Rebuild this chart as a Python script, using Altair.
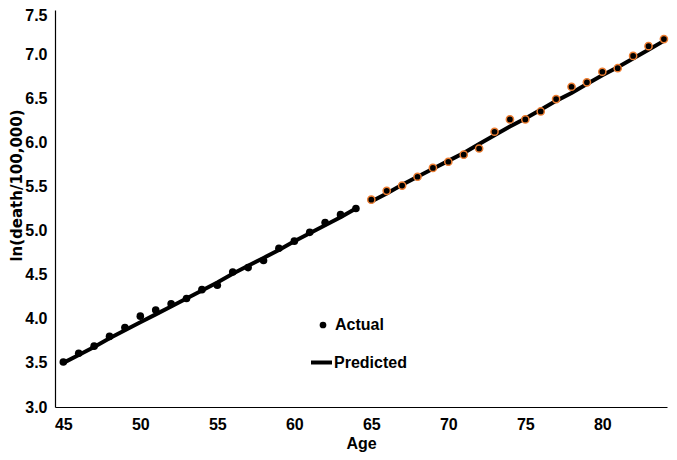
import altair as alt
import pandas as pd

ages = list(range(45, 85))
actual = [3.51, 3.61, 3.69, 3.80, 3.90, 4.03, 4.10, 4.17, 4.23, 4.33,
          4.38, 4.53, 4.58, 4.66, 4.80, 4.88, 4.98, 5.09, 5.18, 5.25,
          5.35, 5.45, 5.51, 5.61, 5.71, 5.78, 5.86, 5.93, 6.12, 6.26,
          6.26, 6.35, 6.49, 6.63, 6.68, 6.80, 6.84, 6.98, 7.09, 7.17]
predicted = [3.50, 3.59, 3.68, 3.78, 3.87, 3.96, 4.05, 4.14, 4.23, 4.32,
             4.41, 4.51, 4.60, 4.69, 4.78, 4.88, 4.97, 5.06, 5.15, 5.25,
             5.33, 5.42, 5.52, 5.61, 5.70, 5.79, 5.88, 5.98, 6.08, 6.18,
             6.27, 6.37, 6.47, 6.56, 6.66, 6.76, 6.85, 6.95, 7.05, 7.15]
segment = ["early"] * 20 + ["late"] * 20
x_ticks = [45, 50, 55, 60, 65, 70, 75, 80]
y_ticks = [3.0, 3.5, 4.0, 4.5, 5.0, 5.5, 6.0, 6.5, 7.0, 7.5]

df = pd.DataFrame({
    "Age": ages,
    "Actual": actual,
    "Predicted": predicted,
    "segment": segment,
    "kind": ["Actual"] * len(ages),
    "kind2": ["Predicted"] * len(ages),
})

FONT = "Liberation Sans"

x_enc = alt.X(
    "Age:Q",
    scale=alt.Scale(domain=[44.46, 84.2], nice=False, zero=False),
    axis=alt.Axis(values=x_ticks, title="Age", format="d", labelPadding=9,
                  titlePadding=3),
)
y_scale = alt.Scale(domain=[3.0, 7.5], nice=False, zero=False)
y_axis = alt.Axis(values=y_ticks, format=".1f", title="ln(death/100,000)",
                  labelPadding=8,
                  labelOffset={"condition": {"test": "datum.value >= 7.5", "value": 5},
                               "value": 0},
                  titleX=-34, titleY=175,
                  titleBaseline="alphabetic", titleAlign="center",
                  titleAngle=270, titleFont="DejaVu Sans", titleFontSize=15)

base = alt.Chart(df)

line = base.mark_line(strokeWidth=4).encode(
    x=x_enc,
    y=alt.Y("Predicted:Q", scale=y_scale, axis=y_axis),
    detail="segment:N",
    color=alt.Color(
        "kind2:N",
        scale=alt.Scale(domain=["Predicted"], range=["black"]),
        legend=alt.Legend(title=None, orient="none", legendX=254, legendY=340,
                          symbolType="stroke", symbolStrokeWidth=4,
                          symbolSize=440, labelOffset=0,
                          labelFontSize=16, labelFont=FONT,
                          labelFontWeight="bold", labelColor="black"),
    ),
)

shape_enc = alt.Shape(
    "kind:N",
    scale=alt.Scale(domain=["Actual"], range=["circle"]),
    legend=alt.Legend(title=None, orient="none", legendX=260, legendY=307,
                      symbolFillColor="black", symbolStrokeColor="black",
                      symbolStrokeWidth=0, symbolSize=45, labelOffset=4,
                      labelFontSize=16, labelFont=FONT,
                      labelFontWeight="bold", labelColor="black"),
)

pts_early = base.transform_filter(alt.datum.segment == "early").mark_point(
    filled=True, fill="black", size=58, opacity=1
).encode(x=x_enc, y=alt.Y("Actual:Q", scale=y_scale, axis=y_axis), shape=shape_enc)

pts_late = base.transform_filter(alt.datum.segment == "late").mark_point(
    filled=True, fill="black", stroke="#ED7D31", strokeWidth=1.5, size=52,
    opacity=1
).encode(x=x_enc, y=alt.Y("Actual:Q", scale=y_scale, axis=y_axis), shape=shape_enc)

chart = alt.layer(line, pts_early, pts_late).properties(
    width=612,
    height=397,
    autosize=alt.AutoSizeParams(type="none"),
    padding={"left": 47, "top": 2, "right": 2, "bottom": 45},
).configure_view(stroke=None).configure_axis(
    grid=False,
    ticks=False,
    domainColor="black",
    domainWidth=1.2,
    labelFont=FONT,
    labelFontSize=16,
    labelFontWeight="bold",
    labelColor="black",
    titleFont=FONT,
    titleFontSize=16,
    titleFontWeight="bold",
    titleColor="black",
).configure_legend(symbolOpacity=1)

chart.save("out.html", embed_options={"renderer": "svg", "actions": False})
